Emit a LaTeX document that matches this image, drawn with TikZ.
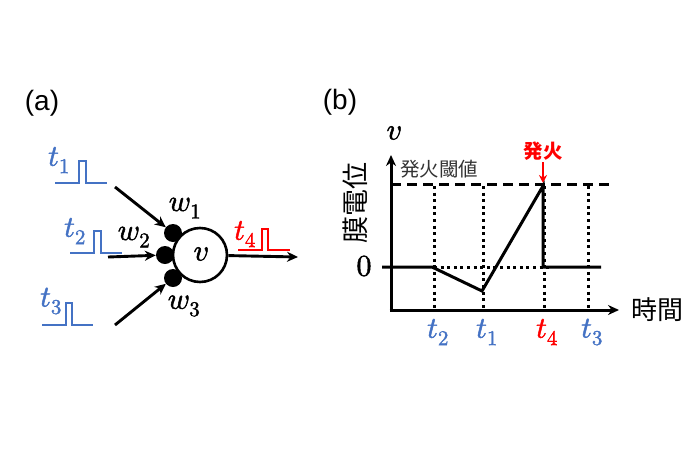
\documentclass[tikz,border=0pt]{standalone}
\usepackage{fontspec}
\setmainfont{Liberation Sans}
\newfontfamily\jpfont{Noto Sans CJK JP}
\usepackage{unicode-math}
\setmathfont{Latin Modern Math}[FakeBold=1.6]
\usetikzlibrary{arrows.meta}
\definecolor{tblue}{RGB}{68,114,196}
\definecolor{tred}{RGB}{255,0,0}
\begin{document}
\begin{tikzpicture}[x=1pt,y=-1pt,
  conn/.style={line width=2.9pt,-{Stealth[length=11pt,width=10pt]}},
  pulse/.style={line width=2.5pt},
  mlab/.style={font=\fontsize{30}{32}\selectfont, inner sep=0pt},
  panel/.style={font=\fontsize{28}{32}\selectfont, inner sep=0pt},
  dotv/.style={line width=3pt, dash pattern=on 3pt off 3.6pt},
  jp/.style={font=\jpfont, inner sep=0pt}]
\useasboundingbox (0,0) rectangle (698,450);
% ---------- panel (a)
\node[panel] (pa) at (42,103) {(a)};
\node[draw, circle, line width=2.6pt, minimum size=54pt, inner sep=0pt] (v) at (200,255) {};
\node[mlab] (vl) at (201,254) {$v$};
\node[circle, fill=black, minimum size=18pt, inner sep=0pt] (d1) at (173,233) {};
\node[circle, fill=black, minimum size=18pt, inner sep=0pt] (d2) at (165,255) {};
\node[circle, fill=black, minimum size=18pt, inner sep=0pt] (d3) at (173,278) {};
\node[mlab] (w1) at (185,208) {$w_1$};
\node[mlab] (w2) at (134,237) {$w_2$};
\node[mlab] (w3) at (184,306) {$w_3$};
% pulses
\draw[pulse, tblue] (55,183) -- (79,183) -- (79,161) -- (86,161) -- (86,183) -- (107,183);
\draw[pulse, tblue] (70,253) -- (94,253) -- (94,231) -- (101,231) -- (101,253) -- (122,253);
\draw[pulse, tblue] (42,325) -- (66,325) -- (66,303) -- (72,303) -- (72,325) -- (93,325);
\draw[pulse, tred] (238,250) -- (262,250) -- (262,229) -- (268,229) -- (268,250) -- (290,250);
\node[mlab, tblue] (t1a) at (59,160) {$t_1$};
\node[mlab, tblue] (t2a) at (75,231) {$t_2$};
\node[mlab, tblue] (t3a) at (51,301) {$t_3$};
\node[mlab, tred] (t4a) at (245,234) {$t_4$};
% connectors
\coordinate (s1) at (115,187);
\coordinate (s2) at (108,257);
\coordinate (s3) at (115,325);
\coordinate (e4) at (298,257);
\draw[conn] (s1) -- (d1);
\draw[conn] (s2) -- (d2);
\draw[conn] (s3) -- (d3);
\draw[conn] (v) -- (e4);
% ---------- panel (b)
\node[panel] (pb) at (340,102) {(b)};
\coordinate (o) at (391,310);
\coordinate (ytop) at (391,155);
\coordinate (xend) at (619,310);
\draw[conn, line width=3pt] (o) -- (ytop);
\draw[conn, line width=3pt] ([xshift=-1.5pt]o) -- (xend);
\node[mlab] (vb) at (394,133) {$v$};
\node[jp, rotate=90, font=\jpfont\fontsize{27}{28}\selectfont] (mem) at (355,203) {膜電位};
\node[mlab] (zero) at (364,266) {$0$};
\node[jp, font=\jpfont\fontsize{26}{28}\selectfont] (jikan) at (657,310) {時間};
\node[jp, font=\jpfont\fontsize{19.5}{20}\selectfont, text=black!80] (thr) at (439,169) {発火閾値};
\node[jp, font=\jpfont\bfseries\fontsize{19.5}{20}\selectfont, text=tred] (fire) at (543,151) {発火};
% threshold
\coordinate (th0) at (391,184);
\coordinate (th1) at (613,184);
\draw[line width=3pt, dash pattern=on 9.5pt off 6.5pt] (th0) -- (th1);
\coordinate (fa) at (543,162);
\coordinate (fb) at (543,183);
\draw[tred, line width=2.2pt, -{Stealth[length=8pt,width=8pt]}] (fa) -- (fb);
% dotted verticals
\foreach \n/\x in {a/434,b/483,c/544,d/588}{
  \coordinate (vt\n) at (\x,186);
  \coordinate (vb\n) at (\x,310);
  \draw[dotv] (vt\n) -- (vb\n);
}
\coordinate (z0) at (434,267);
\coordinate (z1) at (552,267);
\draw[dotv] (z0) -- (z1);
% membrane potential curve
\coordinate (p0) at (382,267);
\coordinate (p1) at (432,267);
\coordinate (p2) at (482,291);
\coordinate (p3) at (543,186);
\coordinate (p4) at (543,267);
\coordinate (p5) at (601,267);
\draw[line width=3pt, line join=miter] (p0) -- (p1) -- (p2) -- (p3) -- (p4) -- (p5);
% time labels
\node[mlab, tblue] (t2b) at (438,332) {$t_2$};
\node[mlab, tblue] (t1b) at (487,332) {$t_1$};
\node[mlab, tred] (t4b) at (547,332) {$t_4$};
\node[mlab, tblue] (t3b) at (592,332) {$t_3$};
\end{tikzpicture}
\end{document}
